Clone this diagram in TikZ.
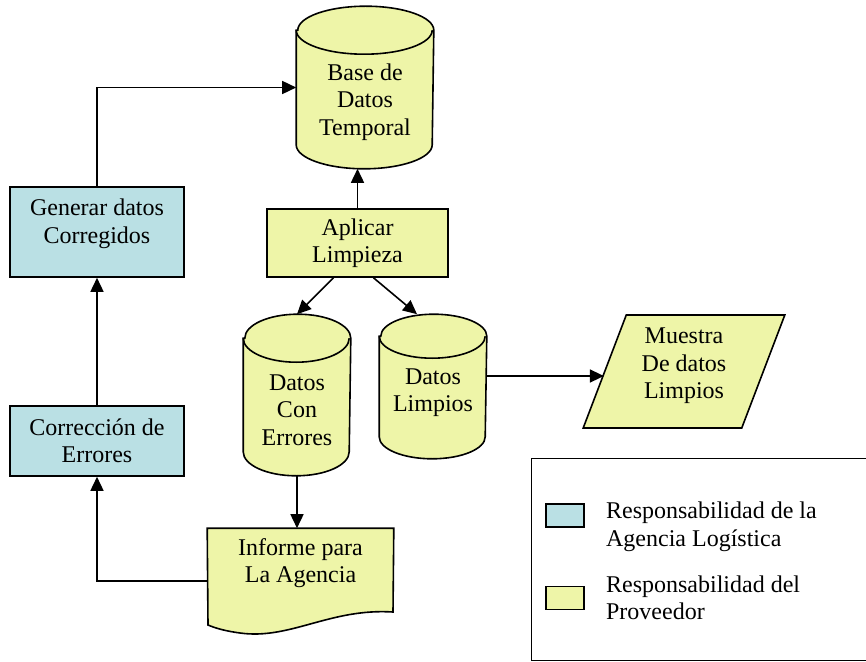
\documentclass[tikz,border=0pt]{standalone}
\usepackage{fontspec}
\setmainfont{Liberation Serif}
\usetikzlibrary{shapes.geometric,arrows.meta}
\definecolor{provfill}{RGB}{238,245,168}
\definecolor{agenfill}{RGB}{186,224,228}
\begin{document}
\begin{tikzpicture}[x=1bp,y=-1bp,line width=1.6bp,font=\fontsize{24bp}{27.5bp}\selectfont,
    >={Triangle[length=14bp,width=13bp]}]
    \tikzstyle{block}=[draw,align=center,inner sep=0pt]
    \tikzstyle{db}=[align=center,inner sep=0pt]
    \useasboundingbox (0,0) rectangle (866,662);

    \node[db,minimum width=136bp,minimum height=161bp] (base) at (365,87.5) {};
    \node[block,fill=provfill,minimum width=181bp,minimum height=68bp] (aplicar) at (357.5,243) {Aplicar\\ Limpieza};
    \node[db,minimum width=106bp,minimum height=160bp] (errores) at (297,395) {};
    \node[db,minimum width=106bp,minimum height=143bp] (limpios) at (433,386.5) {};
    \node[block,fill=agenfill,minimum width=174bp,minimum height=90bp,text depth=22bp] (generar) at (97,232) {Generar datos\\ Corregidos};
    \node[block,fill=agenfill,minimum width=174bp,minimum height=70bp] (correccion) at (97,441) {Corrección de\\ Errores};
    \node[inner sep=0pt,minimum width=185bp,minimum height=68bp] (informe) at (300.5,563) {};
    \node[draw,fill=provfill,trapezium,trapezium left angle=70,trapezium right angle=110,trapezium stretches=true,
        minimum width=202bp,minimum height=113bp,align=center,inner sep=0pt,text depth=16bp] (muestra) at (684,371.5) {Muestra\\ De datos\\ Limpios};

    \foreach \n/\rx/\ry in {base/68/24,errores/53/24,limpios/53/22} {
        \draw[fill=provfill] ([yshift=-\ry bp]\n.north west) -- ([yshift=\ry bp]\n.south west)
            arc[start angle=180,end angle=360,x radius=\rx bp,y radius=\ry bp]
            -- ([yshift=-\ry bp]\n.north east)
            arc[start angle=0,end angle=180,x radius=\rx bp,y radius=\ry bp] -- cycle;
        \draw ([yshift=-\ry bp]\n.north west) arc[start angle=180,end angle=360,x radius=\rx bp,y radius=\ry bp];
    }
    \node[db,text height=101bp] (basetxt) at (base) {Base de\\ Datos\\ Temporal};
    \node[db,text height=101bp] (errorestxt) at (errores) {Datos\\ Con\\ Errores};
    \node[db,text height=56bp] (limpiostxt) at (limpios) {Datos\\ Limpios};

    \draw[fill=provfill] (informe.north west) -- (informe.north east) -- (393,612)
        .. controls (330,608) and (290,640) .. (240,633)
        .. controls (225,631) and (215,628) .. (208,625) -- cycle;
    \node[align=center] (informetxt) at (informe) {Informe para\\ La Agencia};

    \draw[->] (aplicar.north) -- (aplicar.north |- base.south);
    \draw[->] ([xshift=-24bp]aplicar.south) -- (errores.north);
    \draw[->] ([xshift=16bp]aplicar.south) -- ([xshift=-16bp]limpios.north);
    \draw[->] (errores.south) -- (informe.north -| errores.south);
    \draw[->] ([yshift=-18bp]informe.west) -| (correccion.south);
    \draw[->] (correccion.north) -- (generar.south);
    \draw[->] (generar.north) |- (base.west);
    \draw[->] (486,376) coordinate (limpiosout) -- (limpiosout -| muestra.west);

    \draw[line width=1bp] (531,458) rectangle (868,660);
    \node[block,fill=agenfill,minimum width=38bp,minimum height=23bp] (legagen) at (565,515.5) {};
    \node[block,fill=provfill,minimum width=38bp,minimum height=23bp] (legprov) at (565,598) {};
    \node[align=left,anchor=west] (txtagen) at (602,527) {Responsabilidad de la\\ Agencia Logística};
    \node[align=left,anchor=west] (txtprov) at (602,598) {Responsabilidad del\\ Proveedor};
\end{tikzpicture}
\end{document}
